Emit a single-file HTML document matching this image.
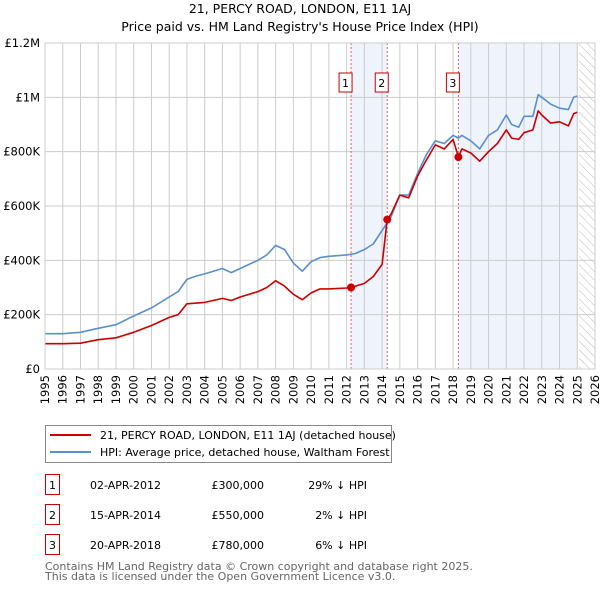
<!DOCTYPE html>
<html><head><meta charset="utf-8"><style>
body{margin:0;background:#fff;font-family:"Liberation Sans","DejaVu Sans",sans-serif;}
svg text{font-family:"DejaVu Sans","Liberation Sans",sans-serif;}
</style></head><body>
<svg id="c" width="600" height="590" xmlns="http://www.w3.org/2000/svg">
<defs><pattern id="hatch" width="6" height="6" patternUnits="userSpaceOnUse" patternTransform="rotate(-45)"><line x1="0" y1="0" x2="0" y2="6" stroke="#bbb" stroke-width="1"/></pattern></defs>
<text x="300" y="13" text-anchor="middle" font-size="12.5">21, PERCY ROAD, LONDON, E11 1AJ</text>
<text x="300" y="31" text-anchor="middle" font-size="12.5">Price paid vs. HM Land Registry's House Price Index (HPI)</text>
<g id="plot"></g>
<g>
<rect x="45.5" y="425.5" width="346" height="37" fill="#fff" stroke="#888"/>
<line x1="50" y1="435" x2="91" y2="435" stroke="#cc0000" stroke-width="2"/>
<text x="100" y="439" font-size="11">21, PERCY ROAD, LONDON, E11 1AJ (detached house)</text>
<line x1="50" y1="452" x2="91" y2="452" stroke="#5b8fd0" stroke-width="2"/>
<text x="100" y="456" font-size="11">HPI: Average price, detached house, Waltham Forest</text>
</g>
<g id="table" font-size="11"></g>
<text x="45" y="570" font-size="11" fill="#666">Contains HM Land Registry data © Crown copyright and database right 2025.</text>
<text x="45" y="580" font-size="11" fill="#666">This data is licensed under the Open Government Licence v3.0.</text>
</svg>
<script>
const yTicks=[0,200000,400000,600000,800000,1000000,1200000];
const yTickLabels=["£0","£200K","£400K","£600K","£800K","£1M","£1.2M"];
const hpiYears=[1995,1996,1997,1998,1999,2000,2001,2002,2002.5,2003,2003.5,2004,2005,2005.5,2006,2007,2007.5,2008,2008.5,2009,2009.5,2010,2010.5,2011,2012,2012.5,2013,2013.5,2014,2014.5,2015,2015.5,2016,2016.5,2017,2017.5,2018,2018.3,2018.5,2019,2019.5,2020,2020.5,2021,2021.3,2021.7,2022,2022.5,2022.8,2023,2023.5,2024,2024.5,2024.8,2025];
const hpiValues=[130,130,135,150,163,195,225,265,285,330,342,350,370,355,370,400,420,455,440,390,360,395,410,415,420,425,440,460,510,560,640,640,720,790,840,830,860,850,860,840,810,860,880,935,900,890,930,930,1010,1000,975,960,955,1000,1005];
const priceYears=[1995,1996,1997,1998,1999,2000,2001,2002,2002.5,2003,2004,2005,2005.5,2006,2007,2007.5,2008,2008.5,2009,2009.5,2010,2010.5,2011,2012,2012.25,2013,2013.5,2014,2014.29,2014.5,2015,2015.5,2016,2016.5,2017,2017.5,2018,2018.3,2018.5,2019,2019.5,2020,2020.5,2021,2021.3,2021.7,2022,2022.5,2022.8,2023,2023.5,2024,2024.5,2024.8,2025];
const priceValues=[93,93,95,108,115,135,160,190,200,240,245,260,252,265,285,300,325,305,275,255,280,295,295,298,300,315,340,385,550,570,640,630,710,770,825,810,845,780,810,795,765,800,830,880,850,845,870,880,950,935,905,910,895,940,945];
const saleYears=[2012.25,2014.29,2018.3];
const saleValues=[300000,550000,780000];
const saleLabels=["1","2","3"];
const saleDates=["02-APR-2012","15-APR-2014","20-APR-2018"];
const salePrices=["£300,000","£550,000","£780,000"];
const saleDiffs=["29% ↓ HPI","2% ↓ HPI","6% ↓ HPI"];
const NS="http://www.w3.org/2000/svg";
const X0=45,X1=595,Y0=369,Y1=43;
const xs=y=>X0+(y-1995)/(2026-1995)*(X1-X0);
const ys=v=>Y0-v/1200000*(Y0-Y1);
const plot=document.getElementById('plot');
function mk(tag,attrs,parent){const e=document.createElementNS(NS,tag);for(const k in attrs)e.setAttribute(k,attrs[k]);(parent||plot).appendChild(e);return e;}
// shading
let s1=mk('rect',{x:xs(2012.25),y:Y1,width:xs(2014.29)-xs(2012.25),height:Y0-Y1,fill:'#eef3fc'});


let s2=mk('rect',{x:xs(2018.3),y:Y1,width:xs(2025.05)-xs(2018.3),height:Y0-Y1,fill:'#eef3fc'});


let h=mk('rect',{x:xs(2025.1),y:Y1,width:X1-xs(2025.1),height:Y0-Y1,fill:'url(#hatch)'});


// grid
for(let yr=1995;yr<=2026;yr++){
 let l=mk('line',{x1:xs(yr),x2:xs(yr),y1:Y1,y2:Y0,stroke:'#ccc','stroke-width':1});
 
 
 let t=mk('text',{x:0,y:0,'font-size':11.5,'text-anchor':'end',transform:`translate(${xs(yr)+4},${Y0+6}) rotate(-90)`});
 t.textContent=yr;
 
 
}
yTicks.forEach((v,i)=>{
 let l=mk('line',{x1:X0,x2:X1,y1:ys(v),y2:ys(v),stroke:'#ccc','stroke-width':1});
 
 
 let t=mk('text',{x:X0-5,y:ys(v)+4,'font-size':11.5,'text-anchor':'end'});
 t.textContent=yTickLabels[i];
 
 
});
// sale vlines
saleYears.forEach((yr,i)=>{
 let l=mk('line',{x1:xs(yr),x2:xs(yr),y1:Y1,y2:Y0,stroke:'#e06060','stroke-width':1,'stroke-dasharray':'2,2'});
 
 
 let r=mk('rect',{x:xs(yr)-12,y:73,width:13,height:19,fill:'#fff',stroke:'#cc0000'});
 
 
 let t=mk('text',{x:xs(yr)-5.5,y:87,'font-size':11,'text-anchor':'middle'});
 t.textContent=saleLabels[i];
 
 
});
function line(years,vals,color,name){
 const d=years.map((y,i)=>(i?'L':'M')+xs(y).toFixed(1)+','+ys(vals[i]*1000).toFixed(1)).join('');
 let p=mk('path',{d:d,fill:'none',stroke:color,'stroke-width':1.6,'stroke-linejoin':'round'});
 
 
}
line(hpiYears,hpiValues,'#5b8fd0','hpi-line');
line(priceYears,priceValues,'#cc0000','price-paid-line');
saleYears.forEach((yr,i)=>{
 let c=mk('circle',{cx:xs(yr),cy:ys(saleValues[i]),r:4,fill:'#cc0000'});
 
 
});
let b=mk('rect',{x:X0,y:Y1,width:X1-X0,height:Y0-Y1,fill:'none',stroke:'#ccc'});


// table
const tb=document.getElementById('table');
saleLabels.forEach((lab,i)=>{
 const y=487+i*30;
 let r=mk('rect',{x:45.5,y:y-12.5,width:14,height:20,fill:'#fff',stroke:'#cc0000'},tb);
 
 
 let t=mk('text',{x:52.5,y:y+2,'text-anchor':'middle'},tb);t.textContent=lab;
 
 
 let d=mk('text',{x:90,y:y+2},tb);d.textContent=saleDates[i];
 
 
 let p=mk('text',{x:264,y:y+2,'text-anchor':'end'},tb);p.textContent=salePrices[i];
 
 
 let q=mk('text',{x:367,y:y+2,'text-anchor':'end'},tb);q.textContent=saleDiffs[i];
 
 
});
</script>
</body></html>
